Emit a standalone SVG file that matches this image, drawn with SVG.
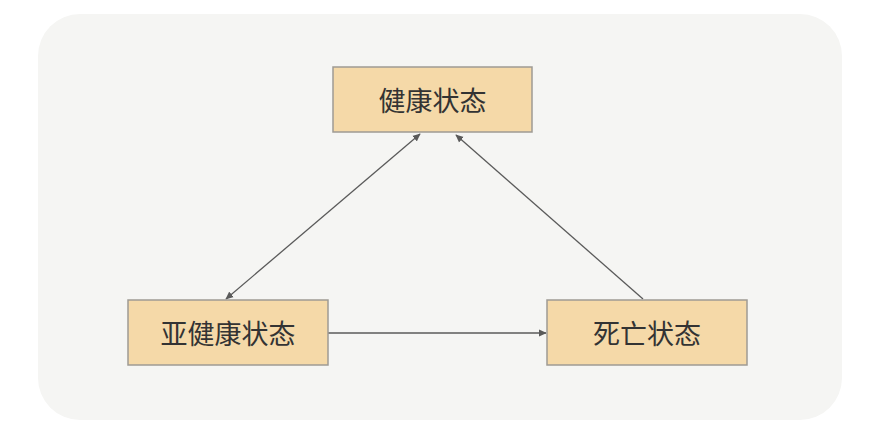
<svg xmlns="http://www.w3.org/2000/svg" width="871" height="425" viewBox="0 0 871 425">
<style>
.box{fill:#f5d9a8;stroke:#9e9a94;stroke-width:1.5}
.lbl{font-family:"Noto Sans CJK SC","Noto Sans",sans-serif;font-size:27px;fill:#333;text-anchor:middle;dominant-baseline:central}
.edge{stroke:#5a5a5a;stroke-width:1.3;fill:none}
</style>
<defs>
<marker id="ah" viewBox="0 0 10 10" refX="9" refY="5" markerWidth="8" markerHeight="8" orient="auto-start-reverse" markerUnits="userSpaceOnUse">
<path d="M0,0.5 L10,5 L0,9.5 z" fill="#5a5a5a"/>
</marker>
</defs>
<rect x="38" y="14" width="804" height="406" rx="42" fill="#f5f5f3"/>
<g id="edges">
<line class="edge" x1="420" y1="134" x2="226" y2="299" marker-start="url(#ah)" marker-end="url(#ah)"/>
<line class="edge" x1="643" y1="299" x2="456" y2="135" marker-end="url(#ah)"/>
<line class="edge" x1="328" y1="333" x2="546" y2="333" marker-end="url(#ah)"/>
</g>
<g id="healthy">
<rect class="box" x="333" y="67" width="199" height="65"/>
<text class="lbl" x="432.5" y="99.5">健康状态</text>
</g>
<g id="subhealthy">
<rect class="box" x="128" y="300" width="200" height="65"/>
<text class="lbl" x="228" y="332.5">亚健康状态</text>
</g>
<g id="dead">
<rect class="box" x="547" y="300" width="200" height="65"/>
<text class="lbl" x="647" y="332.5">死亡状态</text>
</g>
</svg>
